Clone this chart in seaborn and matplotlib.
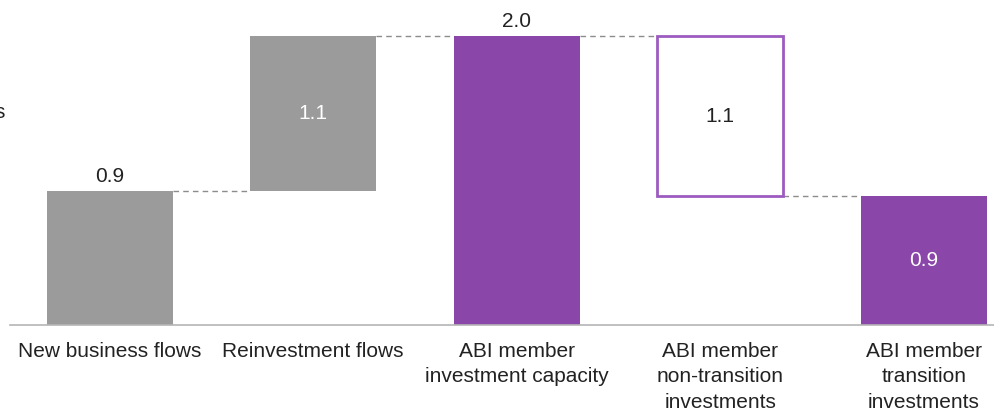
import matplotlib
matplotlib.use("Agg")
import matplotlib.pyplot as plt
import seaborn as sns
import pandas as pd

categories = ["New business flows", "Reinvestment flows", "ABI member\ninvestment capacity",
              "ABI member\nnon-transition\ninvestments", "ABI member\ntransition\ninvestments"]
heights = [0.93, 1.07, 2.0, 1.11, 0.89]
bottoms = [0.0, 0.93, 0.0, 0.89, 0.0]
labels = ["0.9", "1.1", "2.0", "1.1", "0.9"]

GRAY = "#9b9b9b"
PURPLE = "#8a46a8"
OUTLINE = "#9c5bc0"
TEXT = "#222222"

sns.set_theme(style="white")
plt.rcParams["font.family"] = ["Liberation Sans", "DejaVu Sans"]

fig = plt.figure(figsize=(9.95, 4.12), dpi=100)
ax = fig.add_axes([0.01, 1 - 325 / 412, 0.99, 325 / 412])

df = pd.DataFrame({"cat": categories, "h": heights})
sns.barplot(data=df, x="cat", y="h", ax=ax, color=GRAY, width=0.62,
            bottom=bottoms, saturation=1)

styles = [
    dict(fc=GRAY, ec="none", lw=0),
    dict(fc=GRAY, ec="none", lw=0),
    dict(fc=PURPLE, ec="none", lw=0),
    dict(fc="white", ec=OUTLINE, lw=2),
    dict(fc=PURPLE, ec="none", lw=0),
]
for p, st in zip(ax.patches, styles):
    p.set_facecolor(st["fc"])
    p.set_edgecolor(st["ec"])
    p.set_linewidth(st["lw"])

# value labels
fs = 15
for i, (h, b, lab) in enumerate(zip(heights, bottoms, labels)):
    if i in (0, 2):
        ax.text(i, b + h + 0.035, lab, ha="center", va="bottom", fontsize=fs, color=TEXT)
    elif i == 3:
        ax.text(i, b + h / 2, lab, ha="center", va="center", fontsize=fs, color=TEXT)
    else:
        ax.text(i, b + h / 2, lab, ha="center", va="center", fontsize=fs, color="white")

# dashed connectors
w = 0.62
levels = [heights[0], bottoms[1] + heights[1], heights[2], bottoms[3]]
for i, lv in enumerate(levels):
    ax.plot([i + w / 2, i + 1 - w / 2], [lv, lv], color="#8c8c8c", lw=1,
            ls=(0, (4, 3)), zorder=0)

ax.set_xlim(-0.49, 4.35)
ax.set_ylim(0, 2.25)
ax.set_xlabel("")
ax.set_ylabel("")
ax.set_yticks([])
for s in ["top", "right", "left"]:
    ax.spines[s].set_visible(False)
ax.spines["bottom"].set_color("#b5b5b5")
ax.spines["bottom"].set_linewidth(1.2)
ax.tick_params(axis="x", length=0, pad=12, labelsize=fs, labelcolor=TEXT)
for t in ax.get_xticklabels():
    t.set_linespacing(1.45)

fig.text(5 / 995, 1 - 112 / 412, "s", ha="right", va="center", fontsize=fs, color=TEXT)

fig.savefig("out.png", dpi=100)
